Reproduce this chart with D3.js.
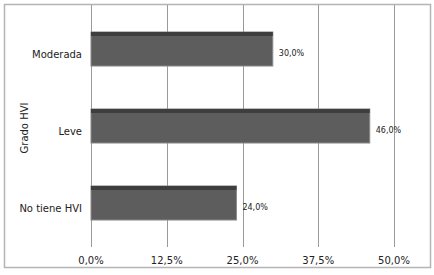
<!DOCTYPE html>
<html>
<head>
<meta charset="utf-8">
<script src="https://cdn.jsdelivr.net/npm/d3@7"></script>
<style>
  body { margin: 0; background: #fff; }
  text { font-family: "DejaVu Sans", Verdana, sans-serif; fill: #222; }
</style>
</head>
<body>
<svg id="chart"></svg>
<script>
var categories = ['Moderada', 'Leve', 'No tiene HVI'];
var values = [30.0, 46.0, 24.0];
var ticks = [0, 12.5, 25, 37.5, 50];
var axisTitle = 'Grado HVI';

var width = 434, height = 275;
var svg = d3.select('#chart').attr('width', width).attr('height', height);

// outer frame
svg.append('rect')
  .attr('x', 4.5).attr('y', 4.5)
  .attr('width', 426).attr('height', 263)
  .attr('fill', 'none').attr('stroke', '#b4b4b4').attr('stroke-width', 1.5);

var x = d3.scaleLinear().domain([0, 50]).range([91, 394]);
var y = d3.scaleBand().domain(categories).range([10.5, 241.5])
  .paddingInner(0.558).paddingOuter(0.279);

var fmt = function(v){ return d3.format('.1f')(v).replace('.', ',') + '%'; };

// gridlines
svg.append('g').selectAll('line')
  .data(ticks)
  .join('line')
    .attr('x1', d => Math.round(x(d)) + 0.5)
    .attr('x2', d => Math.round(x(d)) + 0.5)
    .attr('y1', 5).attr('y2', 247)
    .attr('stroke', '#9a9a9a').attr('stroke-width', 1);

// bars
var bars = svg.append('g').selectAll('g')
  .data(categories)
  .join('g');

bars.append('rect')
  .attr('x', x(0))
  .attr('y', d => y(d))
  .attr('width', (d, i) => x(values[i]) - x(0))
  .attr('height', y.bandwidth())
  .attr('fill', '#5d5d5d')
  .attr('stroke', '#8a8a8a').attr('stroke-width', 1);

bars.append('rect')
  .attr('x', x(0))
  .attr('y', d => y(d))
  .attr('width', (d, i) => x(values[i]) - x(0))
  .attr('height', 4)
  .attr('fill', '#3e3e3e');

// value labels
bars.append('text')
  .attr('x', (d, i) => x(values[i]) + 6)
  .attr('y', d => y(d) + y.bandwidth() / 2 + 6.5)
  .style('font-size', '8px')
  .text((d, i) => fmt(values[i]));

// category labels
svg.append('g').selectAll('text')
  .data(categories)
  .join('text')
    .attr('x', 82)
    .attr('y', d => y(d) + y.bandwidth() / 2 + 9)
    .attr('text-anchor', 'end')
    .style('font-size', '10px')
    .text(d => d);

// x tick labels
svg.append('g').selectAll('text')
  .data(ticks)
  .join('text')
    .attr('x', d => x(d))
    .attr('y', 264)
    .attr('text-anchor', 'middle')
    .style('font-size', '10px')
    .text(d => fmt(d));

// axis title
svg.append('text')
  .attr('transform', 'translate(28,128) rotate(-90)')
  .attr('text-anchor', 'middle')
  .style('font-size', '10px')
  .text(axisTitle);
</script>
</body>
</html>
